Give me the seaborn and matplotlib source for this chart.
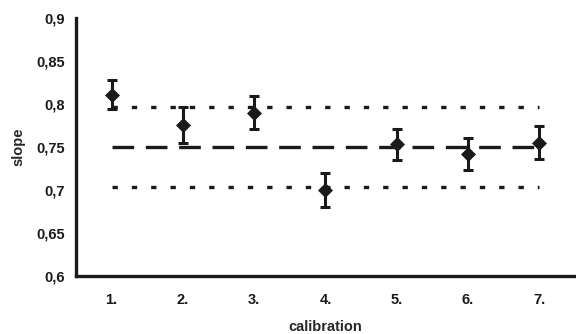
import matplotlib
matplotlib.use("Agg")
import matplotlib.pyplot as plt
import seaborn as sns
import pandas as pd

calibration = ["1.", "2.", "3.", "4.", "5.", "6.", "7."]
slope = [0.811, 0.776, 0.790, 0.700, 0.753, 0.742, 0.755]
err = [0.017, 0.021, 0.019, 0.020, 0.018, 0.019, 0.019]
mean_slope = 0.75
band = 0.047

sns.set_style("white")
plt.rcParams['font.family'] = ['Liberation Sans', 'DejaVu Sans']

df = pd.DataFrame({"x": range(1, 8), "slope": slope, "err": err})

fig = plt.figure(figsize=(5.76, 3.34), dpi=100)
ax = fig.add_axes([0.132, 0.174, 0.866, 0.772])

# reference lines from first to last calibration
sns.lineplot(x=df["x"], y=[mean_slope] * 7, ax=ax, color="#1a1a1a", lw=2.4,
             linestyle=(0, (6.5, 3.5)))
sns.lineplot(x=df["x"], y=[mean_slope + band] * 7, ax=ax, color="#1a1a1a", lw=2.4,
             linestyle=(0, (1.6, 4.2)))
sns.lineplot(x=df["x"], y=[mean_slope - band] * 7, ax=ax, color="#1a1a1a", lw=2.4,
             linestyle=(0, (1.6, 4.2)))

ax.errorbar(df["x"], df["slope"], yerr=df["err"], fmt="none", ecolor="#1a1a1a",
            elinewidth=2.2, capsize=3.8, capthick=2.2, zorder=3)
sns.scatterplot(data=df, x="x", y="slope", marker="D", s=50, color="#1a1a1a",
                edgecolor="#1a1a1a", ax=ax, zorder=4)

ax.set_xlim(0.5, 7.5)
ax.set_ylim(0.6, 0.9)
ax.set_xticks(range(1, 8))
ax.set_xticklabels(calibration)
ax.set_xticks([x + 0.5 for x in range(0, 8)], minor=True)
ax.set_yticks([0.6, 0.65, 0.7, 0.75, 0.8, 0.85, 0.9])
ax.set_yticklabels(["0,6", "0,65", "0,7", "0,75", "0,8", "0,85", "0,9"])
ax.tick_params(axis="x", which="major", length=0, pad=12)
ax.tick_params(axis="x", which="minor", length=4, width=1.8, direction="out", color="#1a1a1a")
ax.tick_params(axis="y", length=5, width=1.8, direction="out", color="#1a1a1a", pad=3)
ax.tick_params(labelsize=10.5)
for lab in ax.get_xticklabels() + ax.get_yticklabels():
    lab.set_fontweight("bold")
    lab.set_color("#1a1a1a")

for s in ["top", "right"]:
    ax.spines[s].set_visible(False)
for s in ["left", "bottom"]:
    ax.spines[s].set_linewidth(2.4)
    ax.spines[s].set_color("#1a1a1a")

ax.set_xlabel("calibration", fontsize=10.5, fontweight="bold", labelpad=10)
ax.set_ylabel("slope", fontsize=10.5, fontweight="bold", labelpad=8)

fig.savefig("out.png", dpi=100)
